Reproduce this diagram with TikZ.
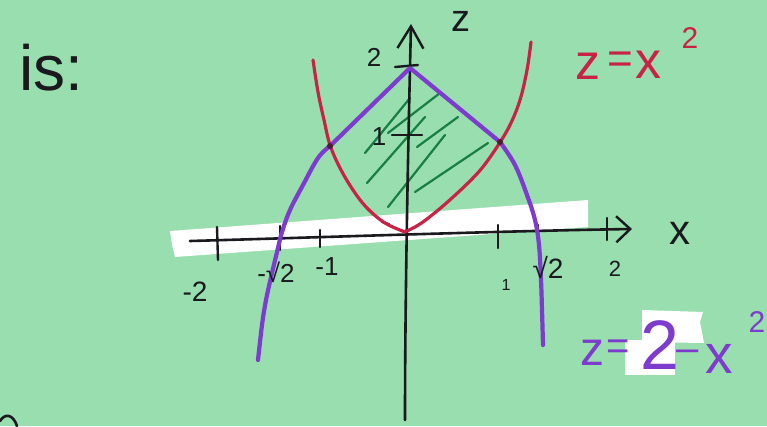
\documentclass[tikz,border=0pt]{standalone}
\usepackage{fontspec}
\setmainfont{Liberation Sans}
\usetikzlibrary{arrows.meta}
\definecolor{paper}{RGB}{152,222,174}
\definecolor{redpen}{RGB}{200,35,70}
\definecolor{purplepen}{RGB}{125,60,205}
\definecolor{greenpen}{RGB}{25,125,70}
\definecolor{ink}{RGB}{25,25,30}
\tikzset{
  axisline/.style={ink, line width=2.6pt, line cap=round},
  tickline/.style={ink, line width=2.4pt, line cap=round},
  redcurve/.style={redpen, line width=3.2pt, line cap=round, line join=round},
  purplecurve/.style={purplepen, line width=4.2pt, line cap=round, line join=round},
  hatch/.style={greenpen, line width=2.2pt, line cap=round},
  tape/.style={fill=white, draw=none},
  lab/.style={inner sep=0pt, ink},
}
\newcommand{\fs}[1]{\fontsize{#1}{#1}\selectfont}
\begin{document}
\begin{tikzpicture}[x=1pt,y=-1pt]
\fill[paper] (0,0) rectangle (767,426);
\useasboundingbox (0,0) rectangle (767,426);

% tape strips
\fill[tape] (170,231) -- (588,200) -- (588,227) -- (175,257) -- (172,245) -- cycle;
\fill[tape] (642,310) -- (703,312) -- (700,322) -- (704,343) -- (642,342) -- cycle;
\fill[tape] (625,340) -- (675,340) -- (675,375) -- (625,375) -- cycle;

% green hatching
\draw[hatch] (365,153) -- (410,98);
\draw[hatch] (388,133) -- (440,93);
\draw[hatch] (367,183) -- (425,117);
\draw[hatch] (417,147) -- (458,117);
\draw[hatch] (388,207) -- (445,135);
\draw[hatch] (415,192) -- (488,143);

% axes
\coordinate (xs) at (190,241);
\coordinate (xe) at (632,229);
\coordinate (zs) at (405,420);
\coordinate (ze) at (411,24);
\draw[axisline, -{Straight Barb[length=14pt,width=26pt,line width=2.4pt]}]
  (xs) .. controls (300,238) and (500,231) .. (xe);
\draw[axisline, -{Straight Barb[length=22pt,width=26pt,line width=2.4pt]}]
  (zs) .. controls (405,300) and (408,150) .. (ze);

% x ticks
\draw[tickline] (217,227) -- (218,260);
\draw[tickline] (280,226) -- (280,250);
\draw[tickline] (320,230) -- (320,247);
\draw[tickline] (498,225) -- (498,248);
\draw[tickline] (538,225) -- (538,245);
\draw[tickline] (607,218) -- (607,240);
% z ticks
\draw[tickline] (395,67) -- (418,65);
\draw[tickline] (392,135) -- (422,135);
% small mark near origin
\draw[tickline, line width=2pt] (382,222) -- (389,224);

% red parabola z = x^2
\draw[redcurve] plot[smooth, tension=0.6] coordinates {(313,60) (318,92) (324,120) (330,145) (340,168) (353,190) (367,208) (385,223) (405,232)};
\draw[redcurve] plot[smooth, tension=0.6] coordinates {(405,232) (420,224) (437,211) (452,198) (468,183) (482,168) (497,147) (510,125) (520,100) (527,70) (531,42)};

% purple parabola z = 2 - x^2
\draw[purplecurve] (330,146) -- (410,68) -- (500,142);
\draw[purplecurve] plot[smooth, tension=0.6] coordinates {(330,146) (318,158) (303,185) (290,210) (282,232) (278,248) (272,273) (266,300) (262,325) (258,360)};
\draw[purplecurve] plot[smooth, tension=0.6] coordinates {(500,142) (515,165) (527,195) (535,220) (539,245) (541,280) (542,310) (543,345)};

% intersection marks
\fill[ink!70!redpen] (330,146) circle (3pt);
\fill[ink!70!redpen] (500,142) circle (3pt);

% labels
\node[lab] (is) at (51,68) {\fs{64}is:};
\node[lab] (zlab) at (461,21) {\fs{38}z};
\node[lab] (xlab) at (680,233) {\fs{42}x};
\node[lab] (ztwo) at (374,57) {\fs{26}2};
\node[lab] (zone) at (379,137) {\fs{26}1};
\node[lab] (xm2) at (195,292) {\fs{28}-2};
\node[lab] (xmr2) at (276,272) {\fs{26}-√2};
\node[lab] (xm1) at (327,267) {\fs{26}-1};
\node[lab] (xp1) at (506,285) {\fs{16}1};
\node[lab] (xpr2) at (548,268) {\fs{28}√2};
\node[lab] (xp2) at (615,269) {\fs{22}2};

% red equation
\node[lab, redpen] (rz) at (588,66) {\fs{50}z};
\node[lab, redpen] (req) at (620,63) {\fs{44}=};
\node[lab, redpen] (rx) at (648,65) {\fs{52}x};
\node[lab, redpen] (rsq) at (690,38) {\fs{30}2};

% purple equation
\node[lab, purplepen] (pz) at (592,353) {\fs{48}z};
\node[lab, purplepen] (peq) at (618,350) {\fs{40}=};
\node[lab, purplepen] (ptwo) at (660,345) {\fs{70}2};
\node[lab, purplepen] (pmin) at (688,356) {\fs{40}–};
\node[lab, purplepen] (px) at (719,359) {\fs{55}x};
\node[lab, purplepen] (psq) at (757,322) {\fs{30}2};

% partial letter at bottom left
\draw[axisline] (0,421) .. controls (5,413) and (13,414) .. (17,426);
\end{tikzpicture}
\end{document}
